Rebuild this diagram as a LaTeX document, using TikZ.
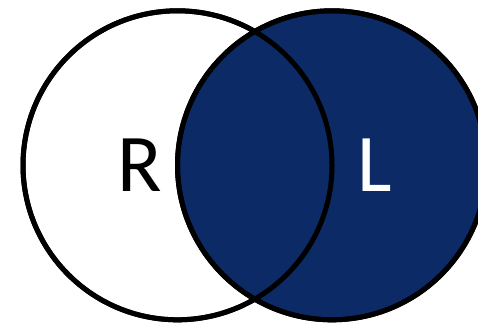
\documentclass[tikz,border=0pt]{standalone}
\usepackage{fontspec}
\setmainfont{Carlito}
\definecolor{navy}{RGB}{11,42,102}
\begin{document}
\begin{tikzpicture}[x=1pt,y=-1pt,
  venn/.style={circle, minimum size=309pt, inner sep=0pt, line width=5pt, draw=black},
  lbl/.style={font=\fontsize{82}{82}\selectfont, inner sep=0pt, anchor=base}]
\useasboundingbox (0,0) rectangle (478,322);
\begin{scope}
\clip (0,0) rectangle (478,322);
\node[venn, fill=white] (rc) at (177.5,165.3) {};
\node[venn, fill=navy] (lc) at (332,165.3) {};
\draw[line width=5pt] (rc.center) circle (154.5pt);
\draw[line width=5pt] (lc.center) circle (154.5pt);
\end{scope}
\node[lbl, text=black] (r) at (140,191) {R};
\node[lbl, text=white] (l) at (375,191) {L};
\end{tikzpicture}
\end{document}
